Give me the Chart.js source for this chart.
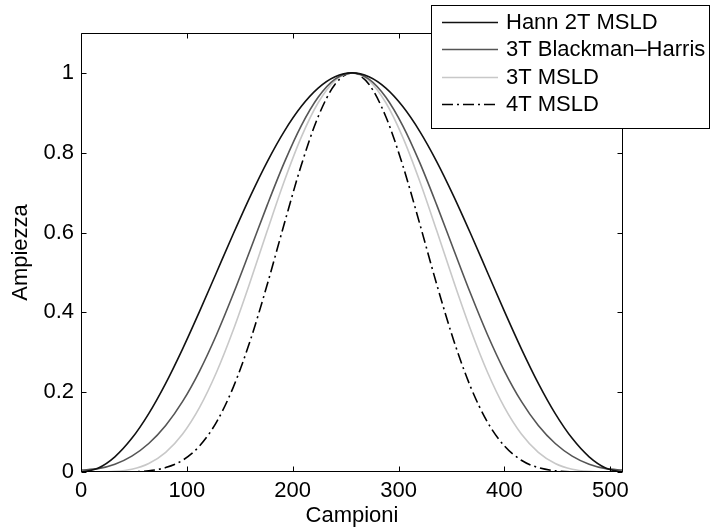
<!DOCTYPE html>
<html>
<head>
<meta charset="utf-8">
<script src="https://cdn.jsdelivr.net/npm/chart.js@4.4.1/dist/chart.umd.min.js"></script>
<style>
  html, body { margin: 0; padding: 0; background: #fff; }
  #wrap { width: 711px; height: 530px; position: relative; }
</style>
</head>
<body>
<div id="wrap"><canvas id="c" width="711" height="530"></canvas></div>
<script>
// ---- data ----
const samples = [0,16,32,48,64,80,96,112,128,144,160,176,192,208,224,240,256,272,288,304,320,336,352,368,384,400,416,432,448,464,480,496,512];
const hann2T = [0,0.0096,0.0381,0.0843,0.1464,0.2222,0.3087,0.4025,0.5,0.5975,0.6913,0.7778,0.8536,0.9157,0.9619,0.9904,1,0.9904,0.9619,0.9157,0.8536,0.7778,0.6913,0.5975,0.5,0.4025,0.3087,0.2222,0.1464,0.0843,0.0381,0.0096,0];
const blackmanHarris3T = [0.0049,0.0084,0.0196,0.0399,0.0714,0.1165,0.1768,0.2530,0.3440,0.4471,0.5576,0.6693,0.7751,0.8673,0.9389,0.9844,1,0.9844,0.9389,0.8673,0.7751,0.6693,0.5576,0.4471,0.3440,0.2530,0.1768,0.1165,0.0714,0.0399,0.0196,0.0084,0.0049];
const msld3T = [0,0.0001,0.0015,0.0071,0.0215,0.0494,0.0953,0.1620,0.25,0.3571,0.4780,0.6050,0.7286,0.8386,0.9253,0.9809,1,0.9809,0.9253,0.8386,0.7286,0.6050,0.4780,0.3571,0.25,0.1620,0.0953,0.0494,0.0215,0.0071,0.0015,0.0001,0];
const msld4T = [0,0,0.0001,0.0006,0.0031,0.0110,0.0294,0.0652,0.125,0.2134,0.3304,0.4705,0.6219,0.7679,0.8901,0.9715,1,0.9715,0.8901,0.7679,0.6219,0.4705,0.3304,0.2134,0.125,0.0652,0.0294,0.0110,0.0031,0.0006,0.0001,0,0];
const seriesNames = ['Hann 2T MSLD', '3T Blackman\u2013Harris', '3T MSLD', '4T MSLD'];
const xTickValues = [0,100,200,300,400,500];
const xTickLabels = ['0','100','200','300','400','500'];
const yTickValues = [0,0.2,0.4,0.6,0.8,1];
const yTickLabels = ['0','0.2','0.4','0.6','0.8','1'];
const xTitle = 'Campioni';
const yTitle = 'Ampiezza';

const FONT = 'Liberation Sans, Arial, Helvetica, sans-serif';
const FS = 22;

function pts(ys) { return samples.map((x, i) => ({x: x, y: ys[i]})); }

const framePlugin = {
  id: 'frame',
  afterDatasetsDraw(chart) {
    const {ctx, chartArea: a, scales} = chart;
    ctx.save();
    ctx.strokeStyle = '#000';
    ctx.lineWidth = 1;
    const L = Math.round(a.left) + 0.5, R = Math.round(a.right) - 0.5;
    const T = Math.round(a.top) + 0.5, B = Math.round(a.bottom) - 0.5;
    ctx.beginPath();
    ctx.rect(L, T, R - L, B - T);
    ctx.stroke();
    const tl = 5;
    ctx.beginPath();
    xTickValues.forEach(v => {
      const px = Math.round(scales.x.getPixelForValue(v)) + 0.5;
      ctx.moveTo(px, B); ctx.lineTo(px, B - tl);
      ctx.moveTo(px, T); ctx.lineTo(px, T + tl);
    });
    yTickValues.forEach(v => {
      const py = Math.round(scales.y.getPixelForValue(v)) + 0.5;
      ctx.moveTo(L, py); ctx.lineTo(L + tl, py);
      ctx.moveTo(R, py); ctx.lineTo(R - tl, py);
    });
    ctx.stroke();
    ctx.restore();
  },
  afterDraw(chart) {
    const {ctx} = chart;
    const box = {x: 431.5, y: 5.5, w: 278, h: 123};
    ctx.save();
    ctx.fillStyle = '#fff';
    ctx.fillRect(box.x, box.y, box.w, box.h);
    ctx.strokeStyle = '#000';
    ctx.lineWidth = 1;
    ctx.strokeRect(box.x, box.y, box.w, box.h);
    ctx.font = FS + 'px ' + FONT;
    ctx.textBaseline = 'middle';
    ctx.textAlign = 'left';
    chart.data.datasets.forEach((ds, i) => {
      const y = 21.5 + i * 27.5;
      ctx.strokeStyle = ds.borderColor;
      ctx.lineWidth = ds.borderWidth;
      ctx.setLineDash(ds.borderDash || []);
      ctx.beginPath();
      ctx.moveTo(442, Math.round(y) + 0.5);
      ctx.lineTo(498, Math.round(y) + 0.5);
      ctx.stroke();
      ctx.setLineDash([]);
      ctx.fillStyle = '#000';
      ctx.fillText(ds.label, 506, y + 1);
    });
    ctx.restore();
  }
};

const common = {fill: false, pointRadius: 0, borderWidth: 1.6, cubicInterpolationMode: 'monotone'};

new Chart(document.getElementById('c'), {
  type: 'line',
  data: {
    datasets: [
      Object.assign({label: seriesNames[0], data: pts(hann2T), borderColor: '#111111'}, common),
      Object.assign({label: seriesNames[1], data: pts(blackmanHarris3T), borderColor: '#555555'}, common),
      Object.assign({label: seriesNames[2], data: pts(msld3T), borderColor: '#c8c8c8'}, common),
      Object.assign({label: seriesNames[3], data: pts(msld4T), borderColor: '#000000', borderDash: [11, 4, 2, 4]}, common)
    ]
  },
  options: {
    responsive: false,
    animation: false,
    layout: {padding: {left: 0, top: 33, right: 88, bottom: 0}},
    plugins: {legend: {display: false}, tooltip: {enabled: false}},
    scales: {
      x: {
        type: 'linear', min: 0, max: 512,
        afterFit(s) { s.height = 58; },
        afterBuildTicks(s) { s.ticks = xTickValues.map(v => ({value: v})); },
        grid: {display: false, drawTicks: false},
        border: {display: false},
        ticks: {
          padding: 6, color: '#000', font: {family: FONT, size: FS},
          maxRotation: 0, autoSkip: false,
          callback: (v) => { const i = xTickValues.indexOf(v); return i >= 0 ? xTickLabels[i] : ''; }
        },
        title: {display: true, text: xTitle, color: '#000', font: {family: FONT, size: FS}, padding: {top: 0, bottom: 1}}
      },
      y: {
        type: 'linear', min: 0, max: 1.1,
        afterFit(s) { s.width = 81; },
        afterBuildTicks(s) { s.ticks = yTickValues.map(v => ({value: v})); },
        grid: {display: false, drawTicks: false},
        border: {display: false},
        ticks: {
          padding: 7, color: '#000', font: {family: FONT, size: FS},
          callback: (v) => { const i = yTickValues.findIndex(t => Math.abs(t - v) < 1e-9); return i >= 0 ? yTickLabels[i] : ''; }
        },
        title: {display: true, text: yTitle, color: '#000', font: {family: FONT, size: FS}, padding: {top: 8, bottom: 0}}
      }
    }
  },
  plugins: [framePlugin]
});
</script>
</body>
</html>
